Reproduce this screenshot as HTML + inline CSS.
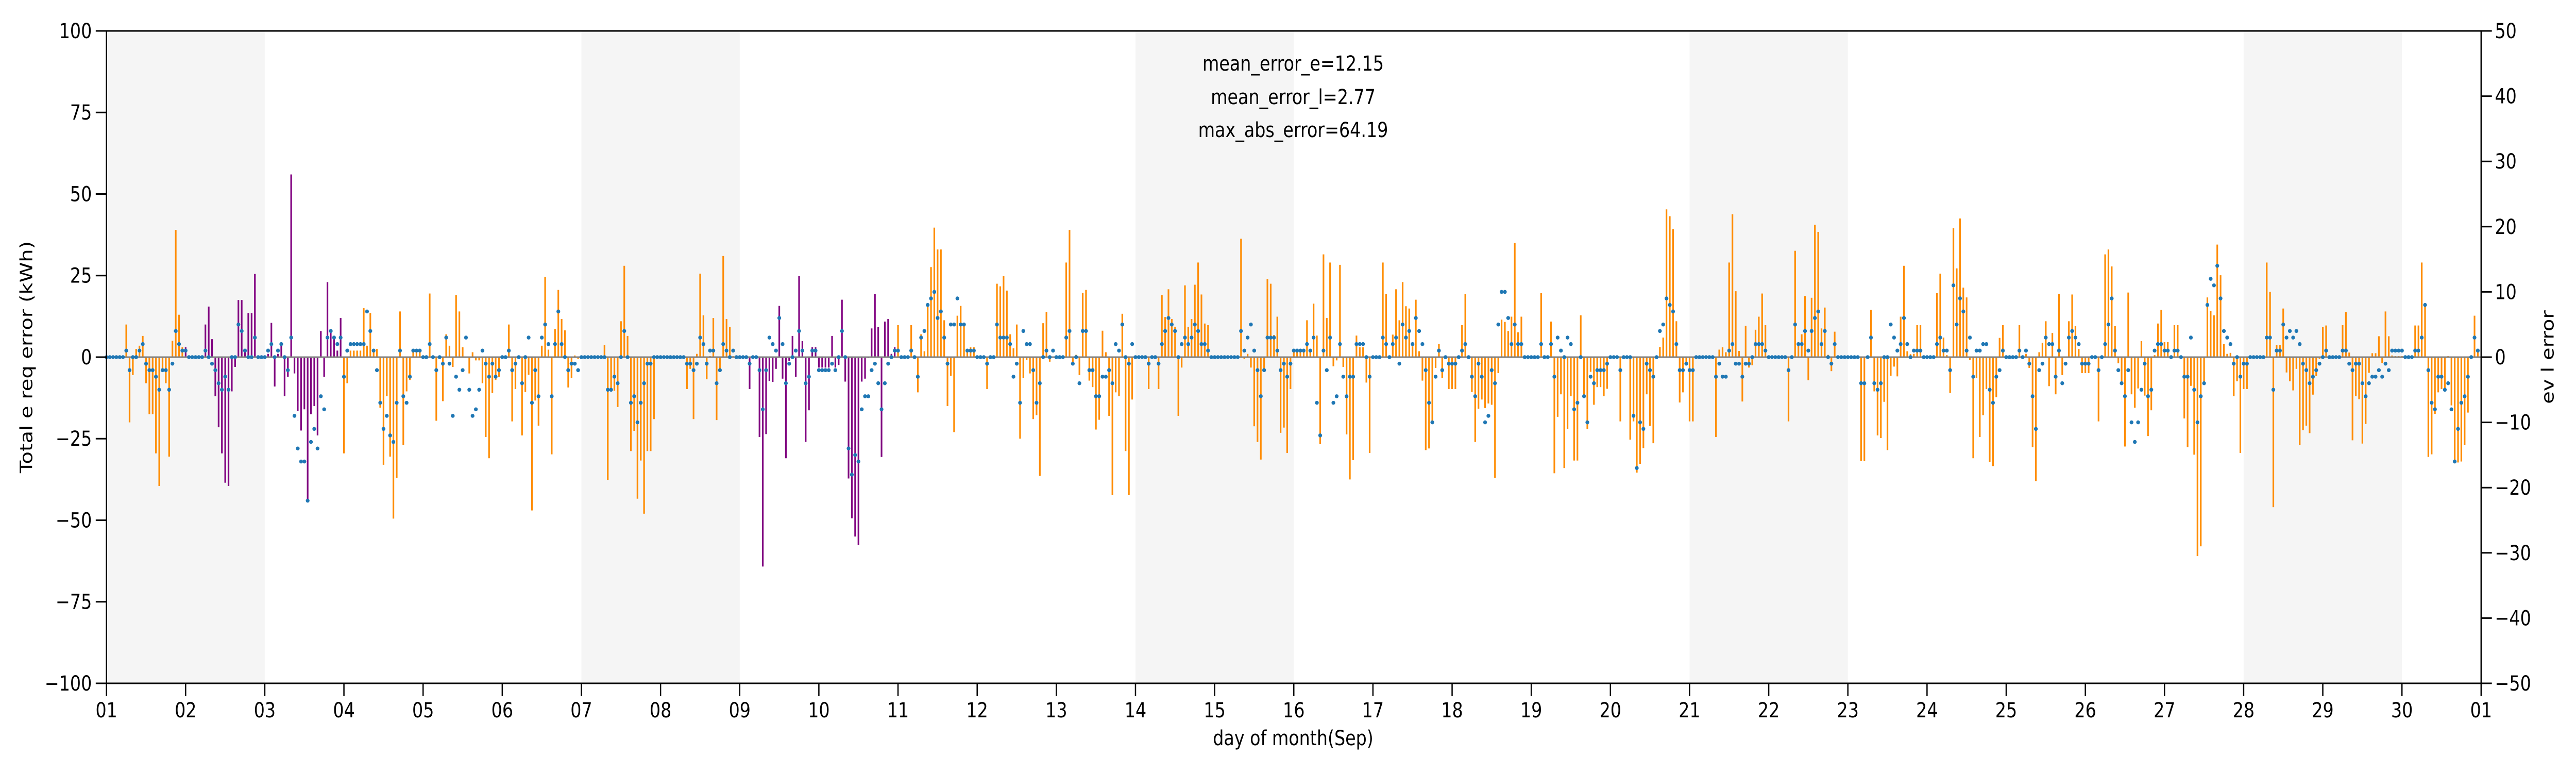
<!DOCTYPE html>
<html><head><meta charset="utf-8"><style>
html,body{margin:0;padding:0;background:#fff;width:100%;height:100%;overflow:hidden;}
svg{display:block;position:absolute;left:0;top:0;width:100vw;height:100vh;font-family:"DejaVu Sans","Liberation Sans",sans-serif;}
</style></head><body>
<svg id="chart" viewBox="0 0 6000 1500" preserveAspectRatio="none" xmlns="http://www.w3.org/2000/svg">
<rect width="6000" height="1500" fill="#fff"/>
<g id="shade"></g>
<g id="bars"></g>
<line id="zeroline" stroke="#808080" stroke-width="3"/>
<g id="dots"></g>
<g id="axes"></g>
<g font-size="40" text-anchor="middle" fill="#000">
<text x="3012" y="137">mean_error_e=12.15</text>
<text x="3012" y="202">mean_error_l=2.77</text>
<text x="3012" y="266">max_abs_error=64.19</text>
</g>
<text x="3012" y="1446" font-size="40" text-anchor="middle">day of month(Sep)</text>
<text transform="translate(75,693) rotate(-90)" font-size="40" text-anchor="middle">Total e req error (kWh)</text>
<text transform="translate(5948,693) rotate(-90)" font-size="40" text-anchor="middle">ev l error</text>
</svg>
<script>
const dayLabels = ["01","02","03","04","05","06","07","08","09","10","11","12","13","14","15","16","17","18","19","20","21","22","23","24","25","26","27","28","29","30","01"];
const leftTicks = [-100,-75,-50,-25,0,25,50,75,100];
const rightTicks = [-50,-40,-30,-20,-10,0,10,20,30,40,50];
const shadedDays = [[0,2],[6,8],[13,15],[20,22],[27,29]];
const purpleDays = [1,2,8,9];
const barValues = [
0,0,0,0,0,0,10,-20,-5.5,2.5,3.5,6.5,-8,-17.5,-17.5,-29.5,-39.5,-4,-8,-30.5,5,39,13,3,
3,0,0,0,0,0,10,15.5,5.5,-12,-21.5,-29.5,-38.5,-39.5,-10.5,-3,17.5,17.5,2,13.5,13.5,25.5,0,0,
0,1,10.5,-9,1,4,-12,-6,56,-5,-16.5,-22.5,-16,-44,-17.5,-15,-24,8,-6,23,7.5,5.5,2,12,
-29.5,-8,2,2,2,2,15,3.5,13.5,2,2.5,-15.5,-33,-12,-30.5,-49.5,-37,14,-27,-10.5,-7,2,2,2,
0,0,19.5,0,-19.5,0,-13.5,7,3.5,-3,19,14,3,0,-5,1.5,-1,-1,-8,-24.5,-31,-11,-7,-6,
0,0,10,-19.7,-9.8,0,-24,-10.7,-5.4,-47,-13.3,-21,3.5,24.6,2.3,-29.8,8.6,20.6,11.7,8.2,-9.3,-6.4,0.5,-0.5,
0,0,0,0,0,0,0,3.7,-37.6,-10,-10.3,-15.3,11,28,6.5,-28.8,-22.6,-43.4,-31.7,-48,-28.8,-28.8,-19,0,
0,0,0,0,0,0,0,0,-9.8,-3.6,-19,1,25.6,12.8,-6.8,0.3,12,-19.3,-4,31,11.7,9.2,0.3,0,
0,0,0,-9.8,0,0,-24.5,-64.19,-23.6,-7.3,-7.6,-3.6,15.7,-6.6,-31,-1.1,6.5,-6,24.8,4.9,-26,-16.3,3,3,
-3.2,-3.2,-3.2,-3.2,6.5,-3.2,-2.4,17.6,-7.5,-37.2,-49.4,-55,-57.6,-7.5,-6.6,-0.3,8.8,19.3,9.2,-30.6,10.9,11.7,1,3,
9.8,0,0,0,9.8,0,-10.8,7,1.8,15.4,27.6,39.7,33,33,11.3,-15,-5.7,-23,12.7,15.7,9.5,1.5,3,3,
0,0,0,-9.8,0,0,22.5,21.7,24.8,20.4,7,2.7,10,-25,-6.4,-0.9,-5,-19,-17.8,-36.4,10.4,13.9,-1.4,0,
0,0,0,29,39,-2,0.7,-5.5,19.7,20.6,-7.2,-9.2,-22.2,-19.2,8.1,1.5,-18,-42.3,-10.8,-12,13.3,-28.8,-42.3,-13,
0,0,0,0,-9.8,0,0,-9.8,19,12.3,20.8,11.7,9.3,-18,-3.2,22,9.3,11.7,22.2,29,19.2,10.3,9.8,0,
0,0,0,0,0,0,0,0,36.3,-0.5,1,-3.2,-21.2,-26,-31.4,-3.6,23.9,22.5,6.8,12.4,-23.2,-21.6,-29.4,-9.8,
1.8,1.8,1.8,1.8,11.3,1.8,16.4,6.6,-26.7,31.5,12,29,-2.8,-1,28.3,-3,-23.7,-37.5,-31.6,6.6,3,3,-7.8,-29.4,
0,0,0,29,19.4,0,6.9,20.8,11.3,23,15.6,14.9,3.3,17.6,1.8,-7.2,-28.5,-28,-20,-3.3,4,-6.4,0,-9.8,
-9.8,-9.8,0,9.8,19.3,0,-10.7,-26,-15.8,-13,-15.6,-14.2,-14.6,-37,-4.9,11.5,10.8,8,12.4,35,7.6,12.4,0,0,
0,0,0,19.6,0,0,10.9,-35.6,-18.3,-11.4,-34,-22,-12,-31.7,-31.7,12.8,-12,-22,-4.5,-14.6,-9.2,-9.2,-12,-9.7,
0,0,0,-19.7,0,0,-25.3,-19.7,-35.4,-32.7,-27.9,-11.4,-21.1,-26.4,0,3.1,6,45.3,43.2,39.2,11,-13.9,-10.8,-1.5,
-19.7,-19.7,0,0,0,0,0,0,-24.5,2.3,3,1.5,29,43.8,20.2,1.9,-13.6,9.6,-3.2,-2.5,8.4,12.4,19.5,9.8,
0,0,0,0,0,0,-19.7,0,32.6,3.7,7,18.7,-7.1,18.2,40.6,38.4,8.8,15.2,0.7,-4.3,7.8,0,0,0,
0,0,0,0,-31.8,-31.8,-0.5,14.5,-10.5,-24,-24.8,-13.7,-28.5,-5.7,-2.9,-5.9,12.4,28,1.8,0.9,1,9.8,9.8,0,
0,0,0,19.6,25.6,6,0.6,-11,39.5,27.2,42.5,21.3,18.3,-0.8,-31,-6.4,-24.5,-17.8,-9.8,-32.1,-33.4,-12.3,5.9,9.8,
0,0,0,0,9.8,0,1,-3.3,-27.6,-38,1.5,4.4,11,-8.9,7.4,-11.4,19.4,-5.5,0,11,19.2,9.5,2.5,-4.9,
-4.9,-4.9,0,0,-19.7,0,31.5,33,27.8,9.5,-1.9,-8,-27.4,19.8,-11.4,-15.5,-9.6,4.9,-11.8,-24.2,-16.3,0.6,10.3,14.5,
4.6,4.6,0,9.8,9.8,0,-18.8,-27.6,-8.8,-29.9,-61,-58,-7.7,18.3,14.2,12.8,34.5,25.1,4,1,1.3,-12,-7.4,-29.4,
-9.8,-9.8,0,0,0,0,0,29,20,-46,3.7,3.7,14.9,-4.7,-7.4,-10.2,-3.6,-27,-22.4,-21,-23.3,-11.5,-5.8,-0.5,
9.2,9.7,0,0,0,0,9.8,13.8,1.4,-25.5,-12,-12.9,-26.5,-20.5,-4.8,1.2,1.2,6.4,-1.8,14,6.4,0.5,0.3,0.3,
0.3,0,0,0,9.7,9.7,29,15.8,-30.6,-29.8,-17.4,-10.8,-9.8,-10.3,0.3,-14.8,-32,-32.3,-32,-27,-17,0,12.7,1.8
];
const evErrors = [
0,0,0,0,0,0,1,-2,0,0,1,2,-1,-2,-2,-3,-5,-2,-2,-5,-1,4,2,1,
1,0,0,0,0,0,1,0,-1,-2,-4,-5,-3,-5,0,0,5,4,1,0,0,3,0,0,
0,1,2,0,1,2,0,-2,3,-9,-14,-16,-16,-22,-13,-11,-14,-6,-8,3,4,3,2,3,
-3,1,2,2,2,2,2,7,4,1,-2,-7,-11,-9,-12,-13,-7,1,-6,-7,-3,1,1,1,
0,0,2,0,-2,0,-1,3,-1,-9,-3,-5,-2,3,-5,-9,-8,-5,1,-1,-3,-1,-3,-2,
0,0,1,-2,-1,0,-4,0,3,-7,-2,-6,3,5,2,-6,2,7,2,0,-2,-1,-1,-2,
0,0,0,0,0,0,0,0,-5,-5,-3,-4,0,4,0,-7,-6,-10,-7,-4,-1,-1,0,0,
0,0,0,0,0,0,0,0,-1,-1,-2,-1,3,2,-1,1,1,-4,-2,2,1,0,1,0,
0,0,0,-1,0,0,-2,-8,-2,3,2,1,6,2,-4,-1,0,1,4,1,-4,-3,1,1,
-2,-2,-2,-2,-1,-2,0,4,0,-14,-18,-15,-16,-8,-6,-6,-2,-1,-4,-8,-4,-1,0,1,
1,0,0,0,1,0,-3,3,4,8,9,10,6,7,3,-1,5,5,9,5,5,1,1,1,
0,0,0,-1,0,0,5,3,3,3,2,-3,-1,-7,4,2,2,-2,-7,-4,0,1,0,1,
0,0,0,3,4,-1,0,-4,4,4,-2,-2,-6,-6,-3,-3,-2,-4,2,1,5,0,-1,2,
0,0,0,0,-1,0,0,-1,2,4,6,5,4,0,2,3,2,3,5,4,2,2,1,0,
0,0,0,0,0,0,0,0,4,1,3,5,1,-2,-6,-2,3,3,3,1,-2,-1,-3,-1,
1,1,1,1,2,1,3,-7,-12,1,-2,3,-7,-6,2,-3,-6,-3,-3,2,2,2,0,-3,
0,0,0,3,2,0,2,3,-1,5,3,4,2,6,4,2,-2,-7,-10,-3,1,-2,0,-1,
-1,-1,0,1,2,0,-3,-6,-1,-3,-10,-9,-2,-4,5,10,10,6,2,5,2,2,0,0,
0,0,0,2,0,0,2,-3,3,1,0,3,2,-8,-7,0,-6,-10,-3,-4,-2,-2,-2,-1,
0,0,0,-2,0,0,0,-9,-17,-10,-11,-1,-2,-3,0,4,5,9,8,7,2,-2,-2,-1,
-2,-2,0,0,0,0,0,0,-3,-1,-3,-3,1,2,-1,-1,-3,-1,-1,0,2,2,2,1,
0,0,0,0,0,0,-2,0,5,2,2,4,1,4,6,7,2,4,0,-1,2,0,0,0,
0,0,0,0,-4,-4,0,3,-4,-5,-4,0,0,5,3,1,2,6,2,0,1,1,1,0,
0,0,0,2,3,1,1,-2,11,5,9,7,1,3,-3,1,1,2,2,-5,-7,-3,-2,1,
0,0,0,0,1,0,1,-1,-6,-11,-2,-1,3,2,2,-3,1,-4,-1,3,4,3,2,-1,
-1,-1,0,0,-2,0,2,5,9,1,-2,-4,-6,-2,-10,-13,-10,-5,-1,-6,-5,1,2,2,
1,1,0,1,1,0,-3,-3,3,-5,-10,-6,-4,8,12,11,14,9,4,3,2,-1,0,-3,
-1,-1,0,0,0,0,0,3,3,-5,1,1,5,3,4,3,4,2,-1,-2,-4,-3,-2,-1,
0,1,0,0,0,0,1,1,-1,-2,-1,-1,-4,-6,-4,-3,-3,-2,-3,-1,-2,1,1,1,
1,0,0,0,1,1,3,8,-2,-7,-8,-3,-3,-5,-4,-8,-16,-11,-7,-6,-3,0,3,1
];

const NS = "http://www.w3.org/2000/svg";
const PL = 248, PR = 5779, PT = 60, PB = 1326;
const HOURS = 720;
function xScale(h){ return PL + h * (PR - PL) / HOURS; }
function yLeft(v){ return PT + (100 - v) * (PB - PT) / 200; }
function yRight(v){ return PT + (50 - v) * (PB - PT) / 100; }
function mk(tag, attrs){ const e = document.createElementNS(NS, tag); for (const k in attrs) e.setAttribute(k, attrs[k]); return e; }

const shade = document.getElementById('shade');
shadedDays.forEach(function(p){
  const r = mk('rect', {x: xScale(p[0]*24), y: PT, width: xScale(p[1]*24) - xScale(p[0]*24), height: PB - PT, fill: '#f5f5f5'});
  
  
  shade.appendChild(r);
});

const bars = document.getElementById('bars');
const bw = 3.8;
barValues.forEach(function(v, h){
  const day = Math.floor(h / 24);
  const col = purpleDays.indexOf(day) >= 0 ? '#800080' : '#ff8c00';
  const y0 = yLeft(0), y1 = yLeft(v);
  const r = mk('rect', {x: xScale(h) - bw/2, y: Math.min(y0, y1), width: bw, height: Math.max(Math.abs(y1 - y0), 0.01), fill: col});
  
  
  bars.appendChild(r);
});

const zl = document.getElementById('zeroline');
zl.setAttribute('x1', PL); zl.setAttribute('x2', PR);
zl.setAttribute('y1', yLeft(0)); zl.setAttribute('y2', yLeft(0));

const dots = document.getElementById('dots');
evErrors.forEach(function(v, h){
  const c = mk('ellipse', {cx: xScale(h), cy: yRight(v), rx: 4.4, ry: 3.8, fill: '#1f77b4'});
  
  
  dots.appendChild(c);
});

const axes = document.getElementById('axes');
const frame = mk('rect', {x: PL, y: PT, width: PR - PL, height: PB - PT, fill: 'none', stroke: '#000', 'stroke-width': 3});


axes.appendChild(frame);
function fmt(v){ return v < 0 ? '\u2212' + Math.abs(v) : String(v); }
leftTicks.forEach(function(v){
  const y = yLeft(v);
  const t = mk('line', {x1: PL - 25, x2: PL, y1: y, y2: y, stroke: '#000', 'stroke-width': 3});
  
  
  axes.appendChild(t);
  const l = mk('text', {x: PL - 34, y: y + 14, 'font-size': 40, 'text-anchor': 'end'});
  l.textContent = fmt(v);
  
  
  axes.appendChild(l);
});
rightTicks.forEach(function(v){
  const y = yRight(v);
  const t = mk('line', {x1: PR, x2: PR + 25, y1: y, y2: y, stroke: '#000', 'stroke-width': 3});
  
  
  axes.appendChild(t);
  const l = mk('text', {x: PR + 32, y: y + 14, 'font-size': 40, 'text-anchor': 'start'});
  l.textContent = fmt(v);
  
  
  axes.appendChild(l);
});
dayLabels.forEach(function(s, i){
  const x = xScale(i*24);
  const t = mk('line', {x1: x, x2: x, y1: PB, y2: PB + 25, stroke: '#000', 'stroke-width': 3});
  
  
  axes.appendChild(t);
  const l = mk('text', {x: x, y: PB + 66, 'font-size': 40, 'text-anchor': 'middle'});
  l.textContent = s;
  
  
  axes.appendChild(l);
});
</script>
</body></html>
